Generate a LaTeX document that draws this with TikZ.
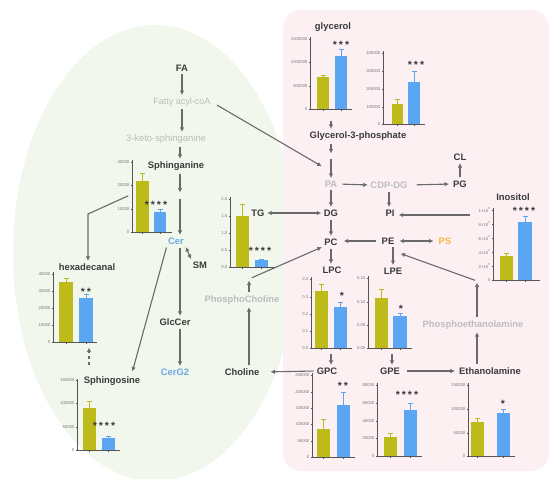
\documentclass[tikz,border=0pt]{standalone}
\usepackage{fontspec}
\setmainfont{Liberation Sans}
\usetikzlibrary{arrows.meta}
\definecolor{dark}{HTML}{3A3A3A}
\definecolor{light}{HTML}{BDBDBD}
\definecolor{arrowc}{HTML}{6A6A6A}
\definecolor{olivebar}{HTML}{BDBB1A}
\definecolor{bluebar}{HTML}{5AA6F2}
\definecolor{cerblue}{HTML}{6AAAE4}
\definecolor{psorange}{HTML}{F5B642}
\definecolor{greenbg}{HTML}{F1F7EC}
\definecolor{pinkbg}{HTML}{FDF0F2}
\definecolor{axc}{HTML}{555555}
\definecolor{tickc}{HTML}{777777}
\tikzset{
 lbl/.style={font=\bfseries\fontsize{9.4}{10}\selectfont, text=dark, inner sep=1pt},
 lgt/.style={font=\bfseries\fontsize{9.4}{10}\selectfont, text=light, inner sep=1pt},
 lgtr/.style={font=\fontsize{9.4}{10}\selectfont, text=light, inner sep=1pt},
 arr/.style={draw=arrowc, line width=1.1pt, shorten <=2pt, shorten >=1.5pt, -{Latex[length=4.5pt,width=4.5pt]}},
 darr/.style={draw=arrowc, line width=1.1pt, shorten <=1.5pt, shorten >=1.5pt, {Latex[length=4.5pt,width=4.5pt]}-{Latex[length=4.5pt,width=4.5pt]}},
 axisline/.style={draw=axc, line width=0.5pt},
 ticklbl/.style={font=\fontsize{4.2}{4.2}\selectfont, text=tickc, inner sep=0.5pt, anchor=east},
 stars/.style={font=\bfseries\fontsize{10.5}{10.5}\selectfont, text=dark, inner sep=0pt},
}
% id, axis x, base y, top y, right x, ticks, olive bar, blue bar
\newcommand{\BarChart}[8]{%
 \foreach \xa/\xb/\tp/\er in {#7}{
   \fill[olivebar] (\xa,#3) rectangle (\xb,\tp);
   \draw[olivebar, line width=0.7pt] ({(\xa+\xb)/2},\tp) -- ({(\xa+\xb)/2},\er) ({(\xa+\xb)/2-2.5},\er) -- ({(\xa+\xb)/2+2.5},\er);
   \draw[axisline] ({(\xa+\xb)/2},#3) -- ({(\xa+\xb)/2},{#3+1.5});
 }
 \foreach \xa/\xb/\tp/\er in {#8}{
   \fill[bluebar] (\xa,#3) rectangle (\xb,\tp);
   \draw[bluebar, line width=0.7pt] ({(\xa+\xb)/2},\tp) -- ({(\xa+\xb)/2},\er) ({(\xa+\xb)/2-2.5},\er) -- ({(\xa+\xb)/2+2.5},\er);
   \draw[axisline] ({(\xa+\xb)/2},#3) -- ({(\xa+\xb)/2},{#3+1.5});
 }
 \draw[axisline] (#2,#4) -- (#2,#3) -- (#5,#3);
 \foreach \ty/\tl [count=\ti] in {#6}{
   \draw[axisline] (#2,\ty) -- ({#2-1.5},\ty);
   \node[ticklbl] (#1t\ti) at ({#2-2},\ty) {\tl};
 }
}
\begin{document}
\begin{tikzpicture}[x=1pt,y=-1pt]
\useasboundingbox (0,0) rectangle (554,479);
\fill[white] (0,0) rectangle (554,479);
% backgrounds
\fill[greenbg] (155,253) ellipse [x radius=142pt, y radius=228pt];
\fill[pinkbg, rounded corners=18pt] (283,10) rectangle (549,471);

% ---------- charts ----------
\BarChart{sg}{132}{232}{160}{172}{232/0,209/10000,185/20000,162/30000}{136/149/181/173}{154/166/212/209}
\node[stars] (sgS) at (156,205) {*\hspace{2pt}*\hspace{2pt}*\hspace{2pt}*};
\BarChart{hx}{53}{342}{272}{97}{342/0,325/10000,308/20000,291/30000,274/40000}{59/73/282/278}{79/93/298/294}
\node[stars] (hxS) at (86,292) {*\hspace{2pt}*};
\BarChart{so}{77}{450}{379}{120}{450/0,427/50000,403/100000,380/150000}{83/96/408/401}{102/115/438/436}
\node[stars] (soS) at (104,426) {*\hspace{2pt}*\hspace{2pt}*\hspace{2pt}*};
\BarChart{tg}{230}{267}{197}{275}{267/0.0,250/0.5,233/1.0,216/1.5,199/2.0}{236/249/216/204}{255/268/260/259}
\node[stars] (tgS) at (260,251) {*\hspace{2pt}*\hspace{2pt}*\hspace{2pt}*};
\BarChart{ga}{310}{109}{37}{352}{109/0,86/500000,62/1000000,39/1500000}{317/329/77/75}{335/347/56/49}
\node[stars] (gaS) at (341,45) {*\hspace{2pt}*\hspace{2pt}*};
\BarChart{gb}{383}{124}{51}{425}{124/0,107/100000,89/200000,71/300000,53/400000}{392/403/104/99}{408/420/82/71}
\node[stars] (gbS) at (416,65) {*\hspace{2pt}*\hspace{2pt}*};
\BarChart{in}{493}{280}{208}{540}{280/0,266/2×10\textsuperscript{5},252/4×10\textsuperscript{5},238/6×10\textsuperscript{5},224/8×10\textsuperscript{5},210/1×10\textsuperscript{6}}{500/513/256/253}{518/532/222/216}
\node[stars] (inS) at (524,211) {*\hspace{2pt}*\hspace{2pt}*\hspace{2pt}*};
\BarChart{lc}{311}{348}{277}{352}{348/0.0,331/0.1,314/0.2,297/0.3,279/0.4}{315/328/291/284}{334/347/307/302}
\node[stars] (lcS) at (342,296) {*};
\BarChart{le}{368}{348}{276}{412}{348/0.00,325/0.05,302/0.10,278/0.15}{375/388/298/289}{393/407/316/313}
\node[stars] (leS) at (401,309) {*};
\BarChart{gc}{312}{457}{373}{355}{457/0,441/50000,424/100000,408/150000,392/200000,375/250000}{317/330/429/419}{337/350/405/392}
\node[stars] (gcS) at (343,386) {*\hspace{2pt}*};
\BarChart{ge}{377}{456}{383}{422}{456/0,438/20000,421/40000,403/60000,385/80000}{384/397/437/433}{404/417/410/403}
\node[stars] (geS) at (407,395) {*\hspace{2pt}*\hspace{2pt}*\hspace{2pt}*};
\BarChart{et}{468}{456}{383}{515}{456/0,433/50000,409/100000,385/150000}{471/484/422/418}{497/510/413/409}
\node[stars] (etS) at (503,404) {*};

% ---------- labels ----------
\node[lbl] (FA) at (182,68) {FA};
\node[lgtr, font=\fontsize{9}{10}\selectfont] (FAcoA) at (182,102) {Fatty acyl-coA};
\node[lgtr] (Keto) at (166,139) {3-keto-sphinganine};
\node[lbl] (Sphinganine) at (176,166) {Sphinganine};
\node[lbl, text=cerblue] (Cer) at (176,241) {Cer};
\node[lbl] (SM) at (200,265) {SM};
\node[lbl] (GlcCer) at (175,322) {GlcCer};
\node[lbl, text=cerblue] (CerG2) at (175,372) {CerG2};
\node[lbl] (Hexa) at (87,267) {hexadecanal};
\node[lbl] (Sphingosine) at (112,381) {Sphingosine};
\node[lbl] (TG) at (258,213) {TG};
\node[lgt] (PCho) at (242,300) {PhosphoCholine};
\node[lbl] (Choline) at (242,372) {Choline};
\node[lbl] (Glycerol) at (333,27) {glycerol};
\node[lbl] (G3P) at (358,136) {Glycerol-3-phosphate};
\node[lgt] (PA) at (331,184) {PA};
\node[lgt] (CDPDG) at (389,185) {CDP-DG};
\node[lbl] (PG) at (460,184) {PG};
\node[lbl] (CL) at (460,157) {CL};
\node[lbl] (DG) at (331,213) {DG};
\node[lbl] (PI) at (390,213) {PI};
\node[lbl] (PC) at (331,242) {PC};
\node[lbl] (PE) at (388,241) {PE};
\node[lbl, text=psorange] (PS) at (445,241) {PS};
\node[lbl] (LPC) at (332,270) {LPC};
\node[lbl] (LPE) at (393,271) {LPE};
\node[lbl] (Inositol) at (513,197) {Inositol};
\node[lgt] (PEtn) at (473,325) {Phosphoethanolamine};
\node[lbl] (GPC) at (327,371) {GPC};
\node[lbl] (GPE) at (390,371) {GPE};
\node[lbl] (Ethanolamine) at (490,371) {Ethanolamine};

% ---------- junction coordinates ----------
\coordinate (jS) at (180,194);
\coordinate (hA) at (130,195);
\coordinate (hB) at (88,214);
\coordinate (sgIn) at (132,373);
\coordinate (soUp) at (89,365);
\coordinate (hxDn) at (89,346);
\coordinate (k1) at (249,279);
\coordinate (gA) at (331,119);
\coordinate (jP) at (331,155);
\coordinate (fEnd) at (323,167);
\coordinate (iA) at (472,215);
\coordinate (lcD) at (331,352);
\coordinate (leD) at (392,352);
\coordinate (eX) at (477,300);
\coordinate (e1) at (477,281);
\coordinate (eEnd) at (399,253);

% ---------- connectors ----------
\draw[arr] (FA.south) -- (FAcoA.north);
\draw[arr] (FAcoA.south) -- (FAcoA.south |- Keto.north);
\draw[arr] (jS |- Keto.south) -- (jS |- Sphinganine.north);
\draw[arr] (jS |- Sphinganine.south) -- (jS);
\draw[arr, shorten <=5pt] (jS) -- (jS |- Cer.north);
\draw[arr] (jS |- Cer.south) -- (jS |- GlcCer.north);
\draw[arr] (jS |- GlcCer.south) -- (jS |- CerG2.north);
\draw[darr] (Cer.south east) -- (SM.north west);
\draw[arr] (hA) -- (hB) -- (hB |- Hexa.north);
\draw[arr] (Cer.south west) -- (sgIn);
\draw[arr, dashed, shorten <=0pt] (soUp) -- (hxDn);
\draw[arr, shorten <=6pt] (FAcoA.east) -- (fEnd);

\draw[darr] (TG.east) -- (DG.west);
\draw[arr] (Choline.north -| k1) -- (PCho.south -| k1);
\draw[arr] (PCho.north -| k1) -- (k1);
\draw[arr, shorten <=3pt] (k1) -- (PC.south west);
\draw[arr, shorten >=10pt] (GPC.west) -- (Choline.east);

\draw[arr] (gA) -- (gA |- G3P.north);
\draw[arr] (jP |- G3P.south) -- (jP);
\draw[arr, shorten <=4pt] (jP) -- (jP |- PA.north);
\draw[arr] (PA.south) -- (PA.south |- DG.north);
\draw[arr] (DG.south) -- (PC.north);
\draw[arr] (PC.south) -- (PC.south |- LPC.north);
\draw[arr, shorten <=4pt] (PA.east) -- (CDPDG.west);
\draw[arr, shorten <=8pt, shorten >=3pt] (CDPDG.east) -- (PG.west);
\draw[arr] (PG.north) -- (CL.south);
\draw[arr] (CDPDG.south) -- (CDPDG.south |- PI.north);
\draw[arr, shorten >=3pt] (iA) -- (iA -| PI.east);
\draw[arr, shorten <=5pt, shorten >=5pt] (PE.west) -- (PE.west -| PC.east);
\draw[darr, shorten <=4pt, shorten >=4pt] (PE.east) -- (PE.east -| PS.west);
\draw[arr] (PE.south -| LPE.north) -- (LPE.north);
\draw[arr] (lcD) -- (lcD |- GPC.north);
\draw[arr] (leD) -- (leD |- GPE.north);
\draw[arr, shorten <=6pt, shorten >=3pt] (GPE.east) -- (Ethanolamine.west);
\draw[arr] (Ethanolamine.north -| eX) -- (PEtn.south -| eX);
\draw[arr] (PEtn.north -| e1) -- (e1);
\draw[arr, shorten <=2pt] (e1) -- (eEnd);
\end{tikzpicture}
\end{document}
